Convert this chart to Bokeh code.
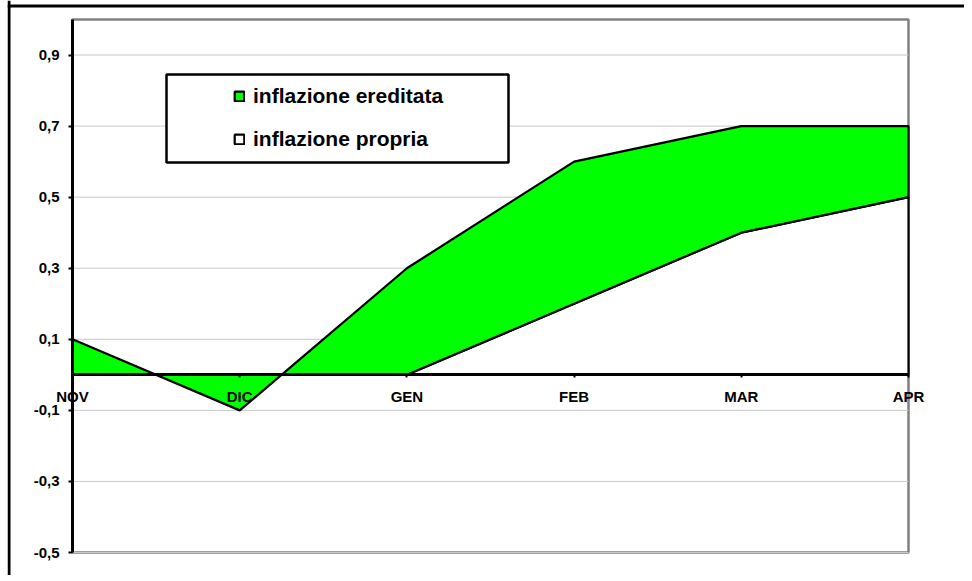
from bokeh.plotting import figure
from bokeh.models import (Range1d, FixedTicker, CustomJSTickFormatter, Legend,
                          LegendItem, BoxAnnotation, Span)
from bokeh.embed import file_html
from bokeh.resources import INLINE

# ---- data -------------------------------------------------------------
months = ["NOV", "DIC", "GEN", "FEB", "MAR", "APR"]
inflazione_propria = [0.0, 0.0, 0.0, 0.2, 0.4, 0.5]
inflazione_ereditata = [0.1, -0.1, 0.3, 0.4, 0.3, 0.2]
y_ticks = [-0.5, -0.3, -0.1, 0.1, 0.3, 0.5, 0.7, 0.9]
y_min, y_max = -0.5, 1.0
series_names = ["inflazione ereditata", "inflazione propria"]

x = list(range(len(months)))
x_first, x_last = x[0], x[-1]
totale = [a + b for a, b in zip(inflazione_propria, inflazione_ereditata)]
baseline = [0.0] * len(months)

# ---- layout (pixels) --------------------------------------------------
W, H = 964, 575               # canvas
FL = 7                        # frame left edge (outer chart border)
PX_L, PX_R = 72, 908          # plot area left/right
PY_T, PY_B = 19, 552          # plot area top/bottom
sx = (PX_R - PX_L) / (x_last - x_first)
sy = (PY_B - PY_T) / (y_max - y_min)

FONT = "Liberation Sans"

p = figure(width=W, height=H,
           x_range=Range1d(x_first - (PX_L - FL) / sx, x_last + (W - PX_R) / sx),
           y_range=Range1d(y_min - (H - PY_B) / sy, y_max + PY_T / sy),
           output_backend="svg", toolbar_location=None)
p.min_border = 0
p.min_border_left = FL
p.min_border_right = 0
p.min_border_top = 0
p.min_border_bottom = 0
p.outline_line_color = None
p.background_fill_color = "white"
p.border_fill_color = "white"
p.xgrid.visible = False
p.ygrid.visible = False

# outer chart frame (only left/top edges fall inside the window)
p.add_layout(Span(location=x_first - (PX_L - 8.5) / sx, dimension="height",
                  line_color="black", line_width=3))
p.add_layout(Span(location=y_max + (PY_T - 5.5) / sy, dimension="width",
                  line_color="black", line_width=3))

# plot area border (grey), below the areas
plot_area = BoxAnnotation(left=x_first, right=x_last, bottom=y_min, top=y_max,
                          fill_alpha=0, line_color="#808080", line_width=2.5,
                          line_alpha=1, level="underlay")
p.add_layout(plot_area)

# horizontal gridlines, confined to the plot area
p.segment(x0=[x_first] * len(y_ticks), x1=[x_last] * len(y_ticks),
          y0=y_ticks, y1=y_ticks, line_color="#c8c8c8", line_width=1)

# areas (stacked): propria at bottom (white), ereditata on top (green)
r_prop = p.patch(x + x[::-1], inflazione_propria + baseline[::-1],
                 fill_color="white", line_color="black", line_width=2.2)
r_ered = p.patch(x + x[::-1], totale + inflazione_propria[::-1],
                 fill_color="#00ff00", line_color="black", line_width=2.2)

# y axis at NOV
p.yaxis.fixed_location = x_first
p.yaxis.bounds = (y_min, y_max)
p.yaxis.ticker = FixedTicker(ticks=y_ticks)
p.yaxis.formatter = CustomJSTickFormatter(code="return tick.toFixed(1).replace('.', ',');")
p.yaxis.axis_line_width = 3
p.yaxis.axis_line_color = "black"
p.yaxis.major_tick_out = 4
p.yaxis.major_tick_in = 0
p.yaxis.major_tick_line_width = 2
p.yaxis.minor_tick_line_color = None
p.yaxis.major_label_standoff = 9
p.yaxis.major_label_text_font = FONT
p.yaxis.major_label_text_font_style = "bold"
p.yaxis.major_label_text_font_size = "15px"
p.yaxis.major_label_text_color = "black"

# x axis at zero
p.xaxis.fixed_location = 0
p.xaxis.bounds = (x_first, x_last)
p.xaxis.ticker = FixedTicker(ticks=x)
p.xaxis.major_label_overrides = {i: m for i, m in zip(x, months)}
p.xaxis.axis_line_width = 3
p.xaxis.axis_line_color = "black"
p.xaxis.major_tick_out = 3
p.xaxis.major_tick_in = 0
p.xaxis.major_tick_line_width = 2
p.xaxis.minor_tick_line_color = None
p.xaxis.major_label_standoff = 10
p.xaxis.major_label_text_font = FONT
p.xaxis.major_label_text_font_style = "bold"
p.xaxis.major_label_text_font_size = "15px"
p.xaxis.major_label_text_color = "black"

# legend frame
LG_L, LG_R, LG_T, LG_B = 166, 508, 74, 162
legend_box = BoxAnnotation(left=x_first + (LG_L - PX_L) / sx, right=x_first + (LG_R - PX_L) / sx,
                           top=y_max - (LG_T - PY_T) / sy, bottom=y_max - (LG_B - PY_T) / sy,
                           fill_color="white", fill_alpha=1.0,
                           line_color="black", line_width=2.5, line_alpha=1.0)
p.add_layout(legend_box)

legend = Legend(items=[LegendItem(label=series_names[0], renderers=[r_ered]),
                       LegendItem(label=series_names[1], renderers=[r_prop])],
                location=(233 - FL, H - 151.5), orientation="vertical",
                glyph_width=12, glyph_height=12, label_standoff=8,
                label_height=25, spacing=18, padding=0, margin=0,
                border_line_alpha=0, background_fill_alpha=0,
                label_text_font=FONT, label_text_font_style="bold",
                label_text_font_size="21px", label_text_color="black")
p.add_layout(legend, "center")

open("out.html", "w").write(file_html(p, INLINE))
